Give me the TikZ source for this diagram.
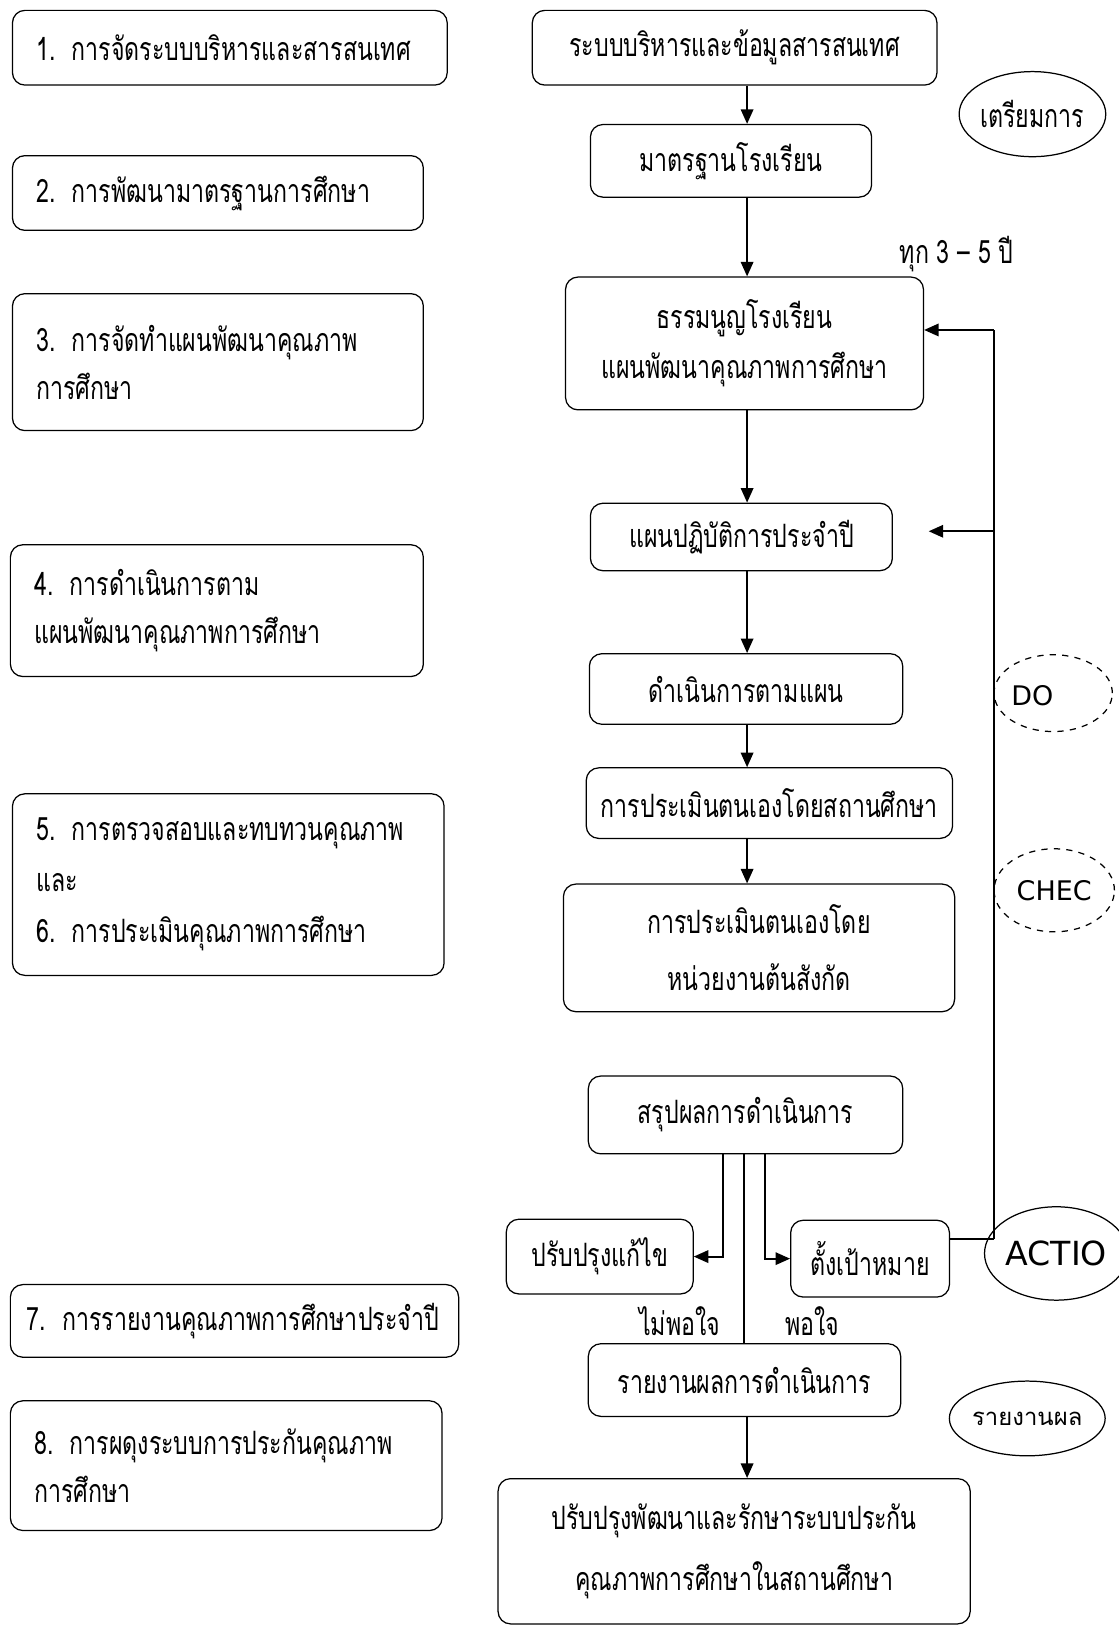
\documentclass[tikz,border=0pt]{standalone}
\usepackage{fontspec}
\newfontfamily\thai[Script=Thai,FakeStretch=0.72]{Loma}
\newfontfamily\thaiplain[Script=Thai]{Loma}
\newfontfamily\lat{DejaVu Sans}
\usetikzlibrary{arrows.meta,shapes.geometric}
\begin{document}
\begin{tikzpicture}[x=0.5pt,y=-0.5pt,
  sz/.style 2 args={minimum width=#1*0.5pt,minimum height=#2*0.5pt},
  box/.style={draw, rounded corners=6pt, line width=0.6pt, align=center, inner sep=0pt,
    font=\thai\fontsize{15.5}{24}\selectfont},
  lbox/.style={box, align=left, inner xsep=11.5pt, font=\thai\fontsize{15.5}{23}\selectfont},
  arr/.style={-{Triangle[length=7pt,width=6pt]}, line width=0.9pt},
  ln/.style={line width=0.9pt},
  oval/.style={draw, ellipse, line width=0.6pt, inner sep=0pt},
  lab/.style={font=\thai\fontsize{15.5}{18}\selectfont, inner sep=0pt},
]
\useasboundingbox (0,0) rectangle (1078,1568);
% left column
\node[lbox, sz={419}{72}, text width=186.5pt] (L1) at (221.5,46) {1. การจัดระบบบริหารและสารสนเทศ};
\node[lbox, sz={396}{72}, text width=175pt] (L2) at (210,186) {2. การพัฒนามาตรฐานการศึกษา};
\node[lbox, sz={396}{132}, text width=175pt] (L3) at (210,349) {3. การจัดทำแผนพัฒนาคุณภาพ\\การศึกษา};
\node[lbox, sz={398}{127}, text width=176pt] (L4) at (209,588.5) {4. การดำเนินการตาม\\แผนพัฒนาคุณภาพการศึกษา};
\node[lbox, sz={416}{175}, text width=185pt, font=\thai\fontsize{15.5}{24.5}\selectfont] (L5) at (220,852.5) {5. การตรวจสอบและทบทวนคุณภาพ\\และ\\6. การประเมินคุณภาพการศึกษา};
\node[lbox, sz={432}{70}, inner xsep=8pt, text width=200pt] (L7) at (226,1273) {7. การรายงานคุณภาพการศึกษาประจำปี};
\node[lbox, sz={416}{125}, text width=185pt] (L8) at (218,1412.5) {8. การผดุงระบบการประกันคุณภาพ\\การศึกษา};
% right column
\node[box, sz={390}{72}] (A) at (708,46) {ระบบบริหารและข้อมูลสารสนเทศ};
\node[box, sz={271}{70}] (B) at (704.5,155) {มาตรฐานโรงเรียน};
\node[box, sz={345}{128}] (C) at (717.5,331) {ธรรมนูญโรงเรียน\\แผนพัฒนาคุณภาพการศึกษา};
\node[box, sz={291}{65}] (D) at (714.5,517.5) {แผนปฏิบัติการประจำปี};
\node[box, sz={302}{68}] (E) at (719,664) {ดำเนินการตามแผน};
\node[box, sz={353}{68}] (F) at (741.5,774) {การประเมินตนเองโดยสถานศึกษา};
\node[box, sz={377}{123}, font=\thai\fontsize{15.5}{27.5}\selectfont] (G) at (731.5,913.5) {การประเมินตนเองโดย\\หน่วยงานต้นสังกัด};
\node[box, sz={303}{75}] (H) at (718.5,1074.5) {สรุปผลการดำเนินการ};
\node[box, sz={180}{72}] (I) at (578,1211) {ปรับปรุงแก้ไข};
\node[box, sz={153}{74}] (J) at (838.5,1213) {ตั้งเป้าหมาย};
\node[box, sz={301}{70}] (K) at (717.5,1330) {รายงานผลการดำเนินการ};
\node[box, sz={455}{140}, font=\thai\fontsize{15.5}{29}\selectfont] (L) at (707.5,1495) {ปรับปรุงพัฒนาและรักษาระบบประกัน\\คุณภาพการศึกษาในสถานศึกษา};
% ovals
\node[oval, sz={132}{82}, font=\thai\fontsize{15.5}{18}\selectfont] (prep) at (995,110) {เตรียมการ};
\node[oval, dashed, sz={114}{74}] (do) at (1015,668) {};
\node[font=\lat\fontsize{13}{15}\selectfont, inner sep=0pt] (dotext) at (995,670) {DO};
\node[oval, dashed, sz={116}{80}, font=\lat\fontsize{13}{15}\selectfont] (chec) at (1016,858) {CHEC};
\node[oval, sz={116}{90}, font=\lat\fontsize{16}{18}\selectfont] (actio) at (1018,1208) {ACTIO};
\node[oval, sz={115}{72}, font=\thaiplain\fontsize{11.5}{14}\selectfont] (rep) at (990,1367) {รายงานผล};
% labels
\node[lab] (every) at (922,245) {ทุก 3 – 5 ปี};
\node[lab] (notok) at (655,1273) {ไม่พอใจ};
\node[lab] (ok) at (783,1273) {พอใจ};
% main arrows
\coordinate (col) at (720,0);
\draw[arr] (A.south -| col) -- (B.north -| col);
\draw[arr] (B.south -| col) -- (C.north -| col);
\draw[arr] (C.south -| col) -- (D.north -| col);
\draw[arr] (D.south -| col) -- (E.north -| col);
\draw[arr] (E.south -| col) -- (F.north -| col);
\draw[arr] (F.south -| col) -- (G.north -| col);
\draw[arr] (K.south -| col) -- (L.north -| col);
% branches from H
\coordinate (hl) at (697,0);
\coordinate (hm) at (717,0);
\coordinate (hr) at (737,0);
\draw[arr] (H.south -| hl) |- (I.east);
\draw[arr] (H.south -| hr) |- (J.west);
\draw[ln] (H.south -| hm) -- (K.north -| hm);
% feedback
\coordinate (fbtop) at (958,318);
\coordinate (fbmid) at (958,512);
\coordinate (fbbot) at (958,1194);
\coordinate (dtip) at (895,512);
\draw[ln] (fbbot) -- (fbtop);
\draw[arr] (fbtop) -- (C.east |- fbtop);
\draw[arr] (fbmid) -- (dtip);
\draw[ln] (J.east |- fbbot) -- (fbbot);
\end{tikzpicture}
\end{document}
